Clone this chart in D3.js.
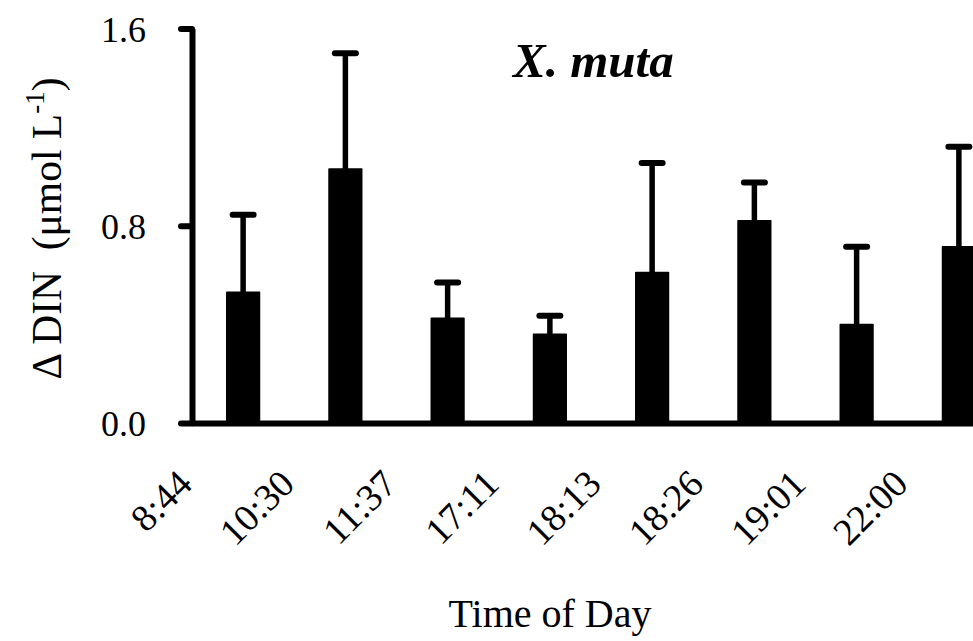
<!DOCTYPE html>
<html>
<head>
<meta charset="utf-8">
<script src="https://cdn.jsdelivr.net/npm/d3@7"></script>
<style>
  html, body { margin: 0; padding: 0; background: #fff; }
  svg { display: block; }
  text { font-family: "Liberation Serif", "Times New Roman", serif; fill: #000; }
</style>
</head>
<body>
<svg id="chart" width="973" height="641"></svg>
<script>
// Sampling times and mean change in DIN with upper standard error
const categories = ["8:44", "10:30", "11:37", "17:11", "18:13", "18:26", "19:01", "22:00"];
const means = [0.53, 1.03, 0.425, 0.36, 0.61, 0.82, 0.40, 0.715];
const errors = [0.315, 0.47, 0.145, 0.075, 0.445, 0.155, 0.315, 0.405];
const yTicks = [0, 0.8, 1.6];

const svg = d3.select("#chart");
svg.append("rect").attr("width", 973).attr("height", 641).attr("fill", "#fff");

const x = d3.scaleBand()
  .domain(categories)
  .range([192, 1010])
  .paddingInner(0.68)
  .paddingOuter(0.34);

const y = d3.scaleLinear().domain([0, 1.6]).range([423, 28.5]);

const data = categories.map((c, i) => ({ c, m: means[i], e: errors[i] }));

// bars
svg.append("g").selectAll("rect").data(data).join("rect")
  .attr("x", d => x(d.c))
  .attr("width", x.bandwidth())
  .attr("y", d => y(d.m))
  .attr("height", d => y(0) - y(d.m))
  .attr("fill", "#000")
  .attr("stroke", "#000")
  .attr("stroke-width", 1.5)
  .attr("stroke-linejoin", "round");

// upper error bars
const eb = svg.append("g").attr("stroke", "#000");
eb.selectAll("line.stem").data(data).join("line")
  .attr("class", "stem")
  .attr("x1", d => x(d.c) + x.bandwidth() / 2)
  .attr("x2", d => x(d.c) + x.bandwidth() / 2)
  .attr("y1", d => y(d.m))
  .attr("y2", d => y(d.m + d.e))
  .attr("stroke-width", 5.5);
eb.selectAll("line.cap").data(data).join("line")
  .attr("class", "cap")
  .attr("x1", d => x(d.c) + x.bandwidth() / 2 - 10.5)
  .attr("x2", d => x(d.c) + x.bandwidth() / 2 + 10.5)
  .attr("y1", d => y(d.m + d.e))
  .attr("y2", d => y(d.m + d.e))
  .attr("stroke-width", 6)
  .attr("stroke-linecap", "round");

// x axis
const gx = svg.append("g")
  .attr("transform", `translate(0,${y(0)})`)
  .call(d3.axisBottom(x).tickSize(0).tickSizeOuter(0));
gx.select(".domain").attr("stroke", "#000").attr("stroke-width", 6);
gx.selectAll(".tick text")
  .attr("y", 0)
  .attr("dy", 0)
  .attr("text-anchor", "end")
  .attr("transform", "translate(-49,63) rotate(-45)")
  .style("font-size", "38px")
  .style("font-family", "'Liberation Serif', 'Times New Roman', serif");

// y axis
const gy = svg.append("g")
  .attr("transform", "translate(192,0)")
  .call(d3.axisLeft(y).tickValues(yTicks).tickFormat(d3.format(".1f"))
    .tickSize(11).tickSizeOuter(0).tickPadding(35));
gy.select(".domain").attr("stroke", "#000").attr("stroke-width", 6);
gy.selectAll(".tick line").attr("stroke", "#000").attr("stroke-width", 6).attr("stroke-linecap", "round");
gy.selectAll(".tick text")
  .attr("dy", "0.35em")
  .style("font-size", "36px")
  .style("font-family", "'Liberation Serif', 'Times New Roman', serif");

// axis titles
svg.append("text")
  .attr("x", 550)
  .attr("y", 627)
  .attr("text-anchor", "middle")
  .style("font-size", "40px")
  .text("Time of Day");

const yt = svg.append("text")
  .attr("transform", "translate(61,228.5) rotate(-90)")
  .attr("text-anchor", "middle")
  .style("font-size", "41.5px")
  .attr("xml:space", "preserve");
yt.append("tspan").text("\u0394 DIN\u00a0\u00a0(\u03bcmol L");
yt.append("tspan").attr("dy", "-17").style("font-size", "27px").text("-1");
yt.append("tspan").attr("dy", "17").text(")");

// species label
svg.append("text")
  .attr("x", 513)
  .attr("y", 77)
  .style("font-size", "49px")
  .style("font-weight", "bold")
  .style("font-style", "italic")
  .text("X. muta");
</script>
</body>
</html>
